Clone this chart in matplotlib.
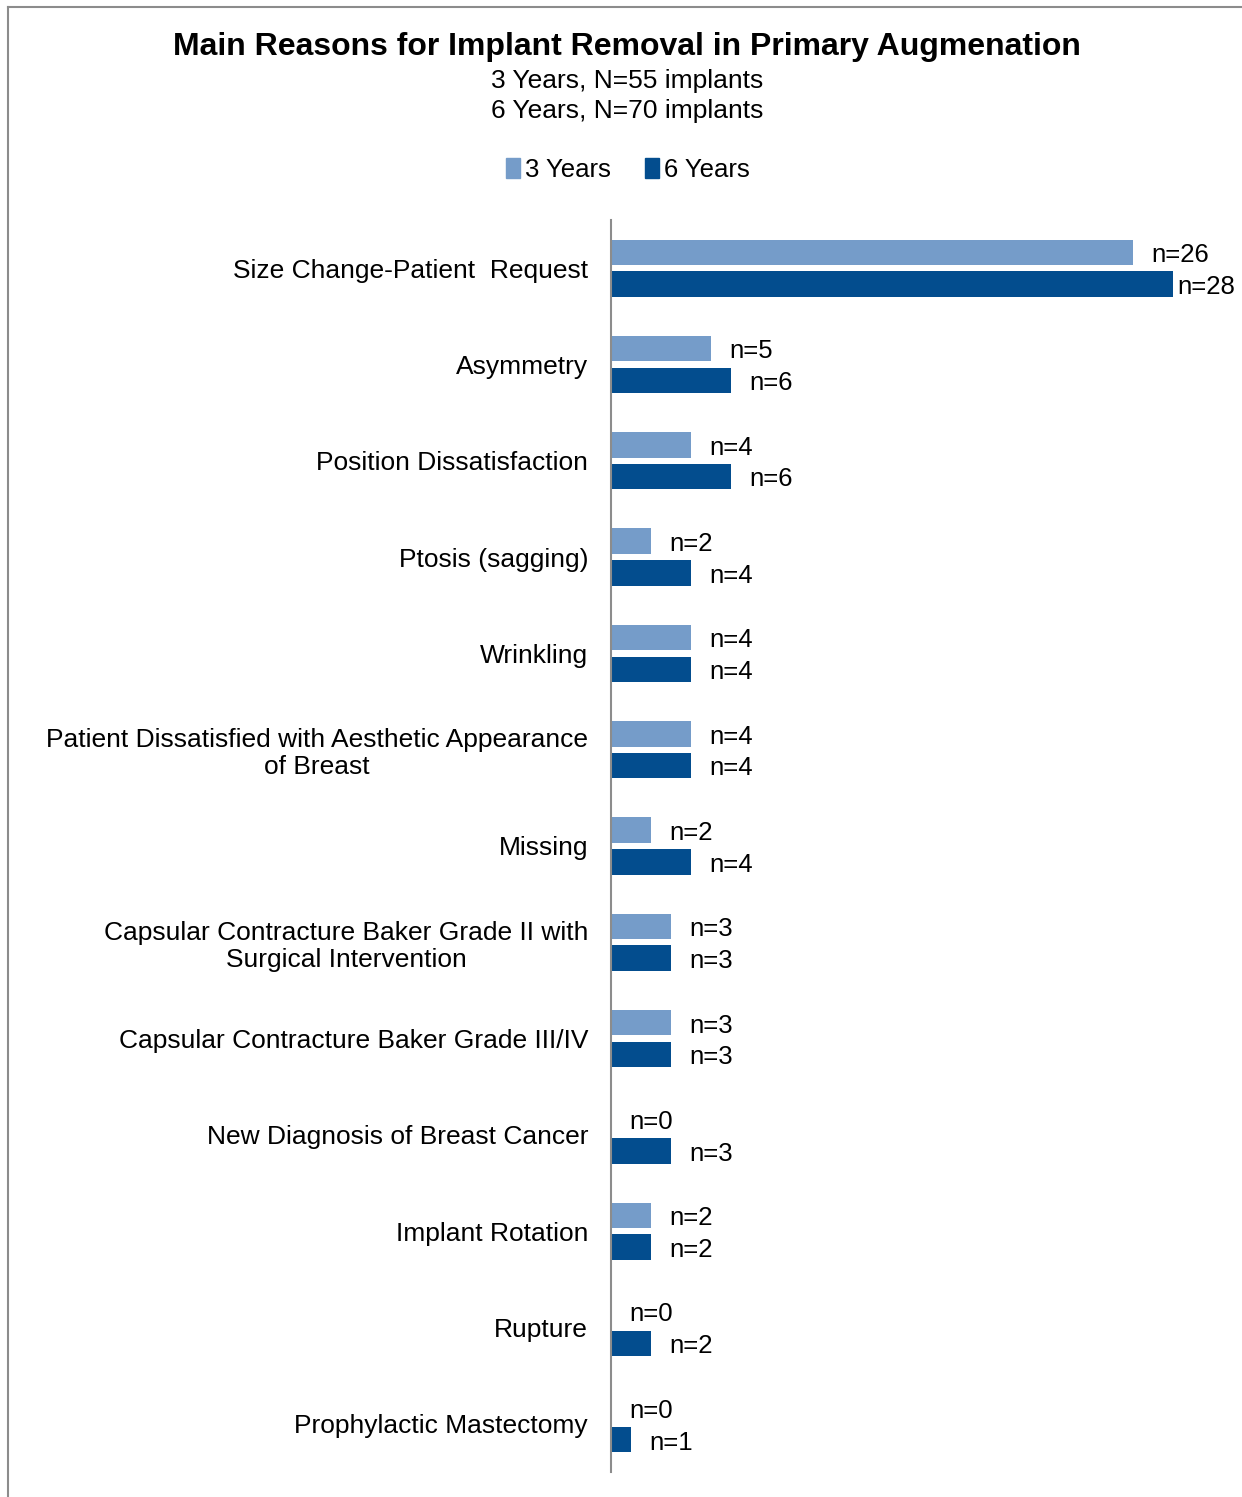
import numpy as np
import matplotlib
matplotlib.use("Agg")
import matplotlib.pyplot as plt
from matplotlib.lines import Line2D

plt.rcParams['font.family'] = ['Liberation Sans', 'DejaVu Sans']

# data
reasons = [
    "Size Change-Patient  Request",
    "Asymmetry",
    "Position Dissatisfaction",
    "Ptosis (sagging)",
    "Wrinkling",
    "Patient Dissatisfied with Aesthetic Appearance\nof Breast",
    "Missing",
    "Capsular Contracture Baker Grade II with\nSurgical Intervention",
    "Capsular Contracture Baker Grade III/IV",
    "New Diagnosis of Breast Cancer",
    "Implant Rotation",
    "Rupture",
    "Prophylactic Mastectomy",
]
years3 = [26, 5, 4, 2, 4, 4, 2, 3, 3, 0, 2, 0, 0]
years6 = [28, 6, 6, 4, 4, 4, 4, 3, 3, 3, 2, 2, 1]
series_names = ["3 Years", "6 Years"]
colors = ["#759CC9", "#034D8E"]

W, H = 1242, 1497
fig = plt.figure(figsize=(W / 100, H / 100), dpi=100)

# axes: x=611..1242 px, y=220..1472 px
ax = fig.add_axes([611 / W, 1 - 1472 / H, (W - 611) / W, 1252 / H])
px_per_unit = (1173 - 611) / 28
ax.set_xlim(0, (W - 611) / px_per_unit)
n = len(reasons)
ax.set_ylim(n - 0.5, -0.5)

y = np.arange(n)
h = 0.265
off = 0.165
ax.barh(y - off, years3, height=h, color=colors[0], label=series_names[0])
ax.barh(y + off, years6, height=h, color=colors[1], label=series_names[1])

# value labels
xmax_unit = max(years6)
for yy, vals in ((y - off, years3), (y + off, years6)):
    for yi, v in zip(yy, vals):
        dx = 3 if v == xmax_unit else 13
        ax.annotate(f"n={v}", (v, yi), xytext=(dx, -2), textcoords="offset points",
                    ha="left", va="center", fontsize=18.5, color="#000000",
                    annotation_clip=False)

ax.set_yticks(y)
ax.set_yticklabels(reasons, fontsize=19, multialignment="center", linespacing=1.15)
ax.tick_params(axis="y", length=0, pad=16.5)
ax.set_xticks([])
for s in ["top", "right", "bottom"]:
    ax.spines[s].set_visible(False)
ax.spines["left"].set_color("#8C8C8C")
ax.spines["left"].set_linewidth(1.5)

# titles
fig.text(0.505, 1 - 47 / H, "Main Reasons for Implant Removal in Primary Augmenation",
         ha="center", va="center", fontsize=23, fontweight="bold")
fig.text(0.505, 1 - 81 / H, "3 Years, N=55 implants", ha="center", va="center", fontsize=19)
fig.text(0.505, 1 - 111 / H, "6 Years, N=70 implants", ha="center", va="center", fontsize=19)

# legend
handles = [plt.Rectangle((0, 0), 1, 1, color=c) for c in colors]
fig.legend(handles, series_names, loc="center", bbox_to_anchor=(628 / W, 1 - 170 / H),
           ncol=2, frameon=False, fontsize=18.5, handlelength=0.55, handleheight=0.8,
           handletextpad=0.2, columnspacing=1.3)

# outer border
fig.add_artist(Line2D([8 / W, 1], [1 - 7 / H, 1 - 7 / H], color="#8C8C8C", lw=1.5))
fig.add_artist(Line2D([8 / W, 8 / W], [0, 1 - 7 / H], color="#8C8C8C", lw=1.5))

fig.savefig("out.png", dpi=100)
